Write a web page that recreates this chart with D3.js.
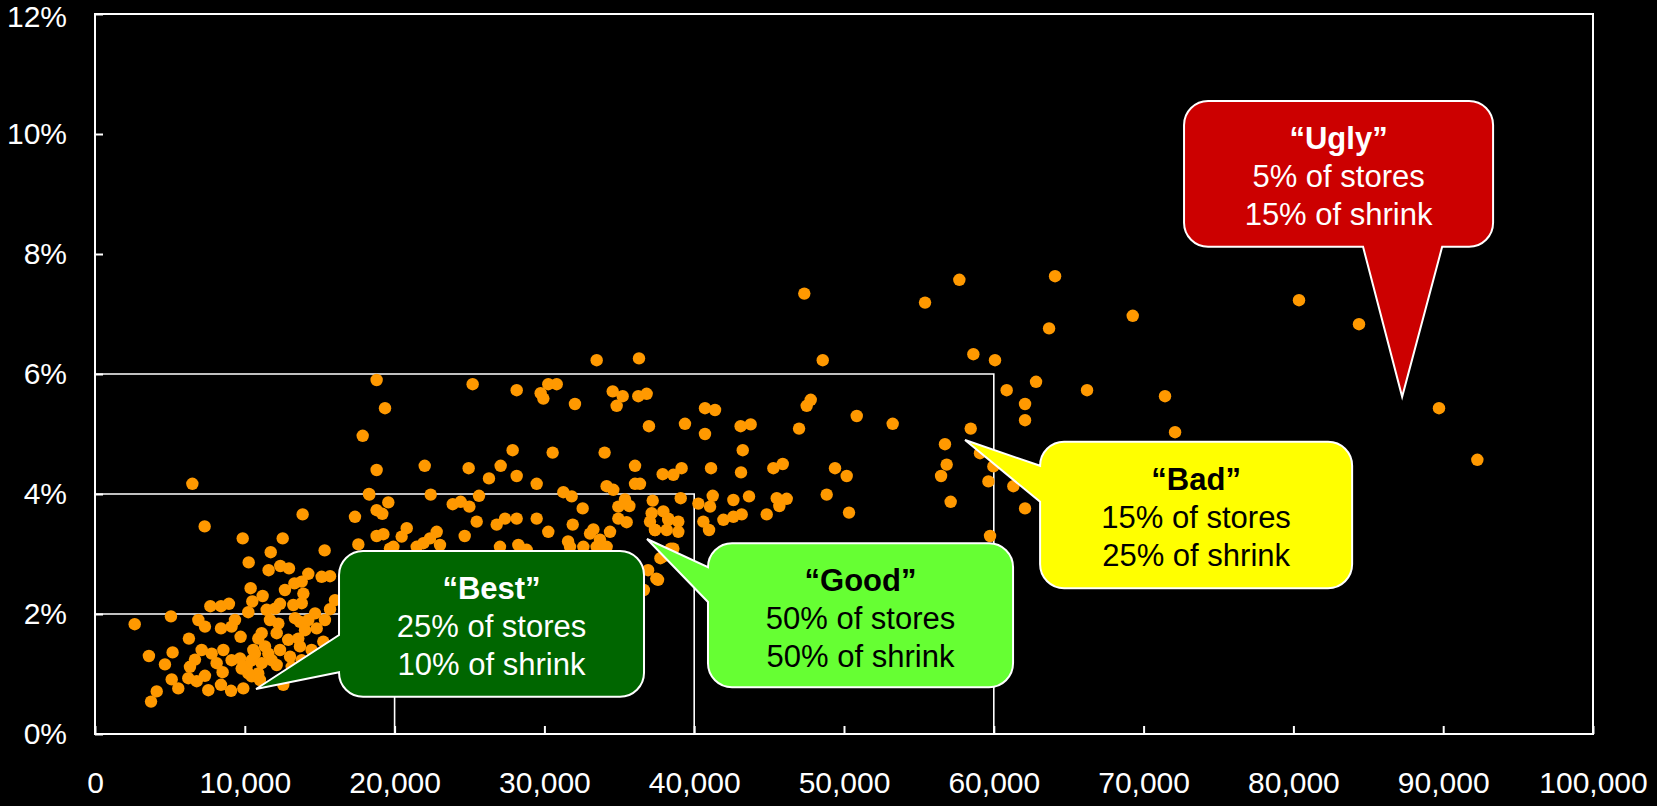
<!DOCTYPE html>
<html>
<head>
<meta charset="utf-8">
<script src="https://cdn.jsdelivr.net/npm/d3@7"></script>
<style>
    html, body { margin: 0; padding: 0; background: #000; }
    svg { display: block; font-family: Arial, "Liberation Sans", sans-serif; }
</style>
</head>
<body>
<svg id="chart" width="1657" height="806"></svg>
<script>
(function () {
    // Axis ticks
    var salesTicks = [0, 10000, 20000, 30000, 40000, 50000, 60000, 70000, 80000, 90000, 100000];
    var shrinkTicks = [0, 2, 4, 6, 8, 10, 12];

    // Tier cut-offs: [sales, shrink %]
    var tierLimits = [[20000, 2], [40000, 4], [60000, 6]];

    // One point per store: [annual sales, shrink %]
    var stores = [
        [17870, 4.97], [18800, 4.40], [6500, 4.17], [18290, 4.00], [19580, 3.86], [18800, 3.73], [19180, 3.67],
        [17355, 3.62], [13860, 3.66], [7320, 3.46], [9860, 3.26], [12530, 3.26], [18800, 3.30], [19250, 3.33],
        [17580, 3.16], [19690, 3.09], [11730, 3.03], [15330, 3.06], [10260, 2.86], [11590, 2.73], [12370, 2.80],
        [12950, 2.76], [14240, 2.67], [15130, 2.62], [15690, 2.63], [13310, 2.51], [13800, 2.54], [10390, 2.43],
        [12680, 2.40], [11190, 2.30], [13910, 2.34], [16020, 2.23], [7700, 2.13], [8410, 2.13], [8940, 2.17],
        [10500, 2.21], [12350, 2.17], [13240, 2.15], [13800, 2.18], [11460, 2.07], [12015, 2.09], [10235, 2.03],
        [15690, 2.08], [14690, 2.01], [5070, 1.96], [2650, 1.83], [6900, 1.90], [7340, 1.79], [9345, 1.90],
        [8410, 1.76], [9120, 1.79], [9720, 1.62], [11680, 1.90], [12240, 1.84], [13350, 1.93], [13680, 1.87],
        [14240, 1.90], [14800, 1.76], [14020, 1.73], [15350, 1.90], [6270, 1.59], [10900, 1.59], [11125, 1.68],
        [12130, 1.68], [12900, 1.57], [13570, 1.59], [13680, 1.46], [15240, 1.54], [7120, 1.40], [3600, 1.30],
        [5180, 1.36], [7790, 1.34], [8570, 1.40], [10570, 1.40], [11570, 1.34], [12350, 1.40], [13020, 1.29],
        [14460, 1.40], [6675, 1.24], [4670, 1.16], [6340, 1.12], [8120, 1.18], [9120, 1.23], [9680, 1.26],
        [10120, 1.12], [11125, 1.18], [12130, 1.15], [13130, 1.12], [13800, 1.23], [5120, 0.91], [5560, 0.76],
        [6230, 0.93], [6790, 0.88], [7340, 0.97], [7565, 0.73], [8410, 0.82], [8520, 1.03], [9080, 0.72],
        [9900, 0.76], [10460, 0.96], [11010, 0.90], [12570, 0.82], [4120, 0.71], [3740, 0.54], [10460, 1.23],
        [10900, 1.01], [11350, 1.46], [11790, 1.23], [10680, 1.34], [10235, 1.01], [9790, 1.09],
        [33490, 6.23], [36315, 6.26], [18800, 5.90], [25210, 5.83], [28150, 5.73], [29750, 5.68], [29930, 5.59],
        [30260, 5.83], [30820, 5.83], [32040, 5.50], [34560, 5.71], [35225, 5.63], [34825, 5.47], [36270, 5.63],
        [36825, 5.67], [19360, 5.43], [36980, 5.13], [39385, 5.17], [27880, 4.73], [30550, 4.69], [34020, 4.69],
        [22010, 4.47], [24945, 4.43], [27080, 4.47], [26300, 4.26], [28150, 4.30], [29485, 4.17], [36050, 4.47],
        [37895, 4.33], [38607, 4.32], [39160, 4.43], [34155, 4.13], [34600, 4.07], [36050, 4.17], [36380, 4.17],
        [18315, 3.99], [22410, 3.99], [25635, 3.97], [23880, 3.83], [24410, 3.87], [24990, 3.79], [31265, 4.03],
        [31820, 3.96], [32555, 3.76], [35380, 3.91], [35670, 3.80], [34935, 3.79], [37230, 3.89], [39100, 3.93],
        [25480, 3.54], [26815, 3.49], [27370, 3.59], [28150, 3.59], [29485, 3.59], [31890, 3.49], [30260, 3.37],
        [34935, 3.59], [35490, 3.53], [34380, 3.37], [33045, 3.34], [33270, 3.41], [37050, 3.54], [37380, 3.40],
        [37940, 3.71], [38270, 3.59], [38940, 3.54], [38160, 3.40], [38940, 3.37], [20810, 3.43], [20470, 3.29],
        [22810, 3.37], [24680, 3.30], [22365, 3.26], [21920, 3.18], [31580, 3.21], [33710, 3.24],
        [19917, 3.12], [21475, 3.12], [23030, 3.15], [27035, 3.12], [28260, 3.15], [28815, 3.07], [31710, 3.12],
        [32600, 3.12], [33490, 3.12], [34155, 3.12], [37940, 2.96], [38607, 3.09],
        [55410, 7.19], [48580, 6.23], [58635, 6.33], [60080, 6.23], [62820, 5.87], [60860, 5.73], [62085, 5.50],
        [62085, 5.23], [40720, 5.43], [41390, 5.40], [47510, 5.47], [47780, 5.57], [40720, 5.00], [43100, 5.13],
        [43770, 5.16], [47000, 5.09], [50850, 5.30], [53250, 5.17], [58460, 5.09], [56740, 4.83], [56855, 4.49],
        [56480, 4.30], [57120, 3.87], [59080, 4.68], [59970, 4.46], [59640, 4.21], [61305, 4.13], [62085, 3.76],
        [59750, 3.30], [43240, 4.73], [41125, 4.43], [43125, 4.36], [45285, 4.43], [45910, 4.50], [49400, 4.43],
        [50180, 4.30], [48845, 3.99], [50335, 3.69], [40280, 3.84], [41235, 3.97], [41060, 3.79], [42615, 3.90],
        [43660, 3.96], [40610, 3.54], [40990, 3.40], [41950, 3.57], [42615, 3.62], [43170, 3.66], [44840, 3.66],
        [45510, 3.93], [46175, 3.92], [45685, 3.80], [37160, 3.68], [38270, 3.57], [37390, 3.40],
        [64090, 7.63], [69275, 6.97], [63690, 6.76], [80375, 7.23], [84380, 6.83], [89720, 5.43], [92280, 4.57],
        [66225, 5.73], [71430, 5.63], [72100, 5.03], [47350, 7.34], [57700, 7.57],
        [37745, 2.93], [38440, 3.09], [36920, 2.73], [37470, 2.59], [36640, 2.40], [37585, 2.57]
    ];

    // Callout texts
    var calloutTitles = ['\u201cBest\u201d', '\u201cGood\u201d', '\u201cBad\u201d', '\u201cUgly\u201d'];
    var calloutStores = ['25% of stores', '50% of stores', '15% of stores', '5% of stores'];
    var calloutShrink = ['10% of shrink', '50% of shrink', '25% of shrink', '15% of shrink'];

    // Callout geometry, in data units: box [x0, x1, yTop, yBottom], pointer base on one side, tip
    var calloutLayout = [
        { box: [16290, 36650, 3.05, 0.62], side: 'left', base: [1.65, 1.03], tip: [10750, 0.75], fill: '#006600', ink: '#fff' },
        { box: [40920, 61285, 3.18, 0.78], side: 'left', base: [2.78, 2.20], tip: [36850, 3.25], fill: '#66ff33', ink: '#000' },
        { box: [63090, 83920, 4.87, 2.43], side: 'left', base: [4.47, 3.87], tip: [58080, 4.90], fill: '#ffff00', ink: '#000' },
        { box: [72700, 93330, 10.55, 8.12], side: 'bottom', base: [84650, 89930], tip: [87260, 5.62], fill: '#cc0000', ink: '#fff' }
    ];

    var WIDTH = 1657;
    var HEIGHT = 806;
    var M = { top: 14, right: 64, bottom: 72, left: 95 };
    var DOT_R = 6.2;
    var DOT_COLOR = '#ff9900';
    var CORNER_R = 24;
    var TICK_FONT = 30;
    var CALLOUT_FONT = 31;
    var LINE_GAP = 38;

    var svg = d3.select('#chart');
    svg.append('rect').attr('width', WIDTH).attr('height', HEIGHT).attr('fill', '#000');

    var x = d3.scaleLinear().domain([0, 100000]).range([M.left, WIDTH - M.right]);
    var y = d3.scaleLinear().domain([0, 12]).range([HEIGHT - M.bottom, M.top]);

    // Tier boxes from the origin
    svg.append('g').selectAll('path')
        .data(tierLimits)
        .join('path')
        .attr('d', function (d) { return 'M' + x(0) + ',' + y(d[1]) + 'H' + x(d[0]) + 'V' + y(0); })
        .attr('fill', 'none')
        .attr('stroke', '#fff')
        .attr('stroke-width', 1.6);

    // Axes with inward ticks
    var yAxis = svg.append('g')
        .attr('transform', 'translate(' + M.left + ',0)')
        .call(d3.axisLeft(y).tickValues(shrinkTicks).tickFormat(function (d) { return d + '%'; })
            .tickSizeInner(-8).tickSizeOuter(0).tickPadding(28));
    var xAxis = svg.append('g')
        .attr('transform', 'translate(0,' + (HEIGHT - M.bottom) + ')')
        .call(d3.axisBottom(x).tickValues(salesTicks).tickFormat(d3.format(','))
            .tickSizeInner(-8).tickSizeOuter(0).tickPadding(38));
    [yAxis, xAxis].forEach(function (g) {
        g.select('.domain').remove();
        g.selectAll('line').attr('stroke', '#fff').attr('stroke-width', 2);
        g.selectAll('text').attr('fill', '#fff').attr('font-size', TICK_FONT)
            .attr('font-family', 'Arial, "Liberation Sans", sans-serif');
    });
    // Keep the top label clear of the page edge
    yAxis.selectAll('.tick text')
        .filter(function (d) { return d === 12; })
        .attr('dy', '0.42em');

    // Plot frame
    svg.append('rect')
        .attr('x', x(0)).attr('y', y(12))
        .attr('width', x(100000) - x(0)).attr('height', y(0) - y(12))
        .attr('fill', 'none').attr('stroke', '#fff').attr('stroke-width', 2);

    // Stores
    svg.append('g').selectAll('circle')
        .data(stores)
        .join('circle')
        .attr('cx', function (d) { return x(d[0]); })
        .attr('cy', function (d) { return y(d[1]); })
        .attr('r', DOT_R)
        .attr('fill', DOT_COLOR);

    function calloutPath(b) {
        var x0 = x(b.box[0]), x1 = x(b.box[1]), y0 = y(b.box[2]), y1 = y(b.box[3]);
        var r = CORNER_R;
        var p = d3.path();
        p.moveTo(x0 + r, y0);
        p.lineTo(x1 - r, y0);
        p.arcTo(x1, y0, x1, y0 + r, r);
        p.lineTo(x1, y1 - r);
        p.arcTo(x1, y1, x1 - r, y1, r);
        if (b.side === 'bottom') {
            p.lineTo(x(b.base[1]), y1);
            p.lineTo(x(b.tip[0]), y(b.tip[1]));
            p.lineTo(x(b.base[0]), y1);
        }
        p.lineTo(x0 + r, y1);
        p.arcTo(x0, y1, x0, y1 - r, r);
        if (b.side === 'left') {
            p.lineTo(x0, y(b.base[1]));
            p.lineTo(x(b.tip[0]), y(b.tip[1]));
            p.lineTo(x0, y(b.base[0]));
        }
        p.lineTo(x0, y0 + r);
        p.arcTo(x0, y0, x0 + r, y0, r);
        p.closePath();
        return p.toString();
    }

    var callouts = svg.append('g').selectAll('g')
        .data(calloutLayout)
        .join('g');

    callouts.append('path')
        .attr('d', calloutPath)
        .attr('fill', function (d) { return d.fill; })
        .attr('stroke', '#fff')
        .attr('stroke-width', 2)
        .attr('stroke-linejoin', 'miter');

    callouts.each(function (d, i) {
        var g = d3.select(this);
        var cx = (x(d.box[0]) + x(d.box[1])) / 2;
        var top = y(d.box[2]);
        var lines = [calloutTitles[i], calloutStores[i], calloutShrink[i]];
        g.selectAll('text')
            .data(lines)
            .join('text')
            .attr('x', cx)
            .attr('y', function (t, j) { return top + 48 + j * LINE_GAP; })
            .attr('text-anchor', 'middle')
            .attr('font-size', CALLOUT_FONT)
            .attr('font-weight', function (t, j) { return j === 0 ? 'bold' : 'normal'; })
            .attr('fill', d.ink)
            .text(function (t) { return t; });
    });
}());
</script>
</body>
</html>
